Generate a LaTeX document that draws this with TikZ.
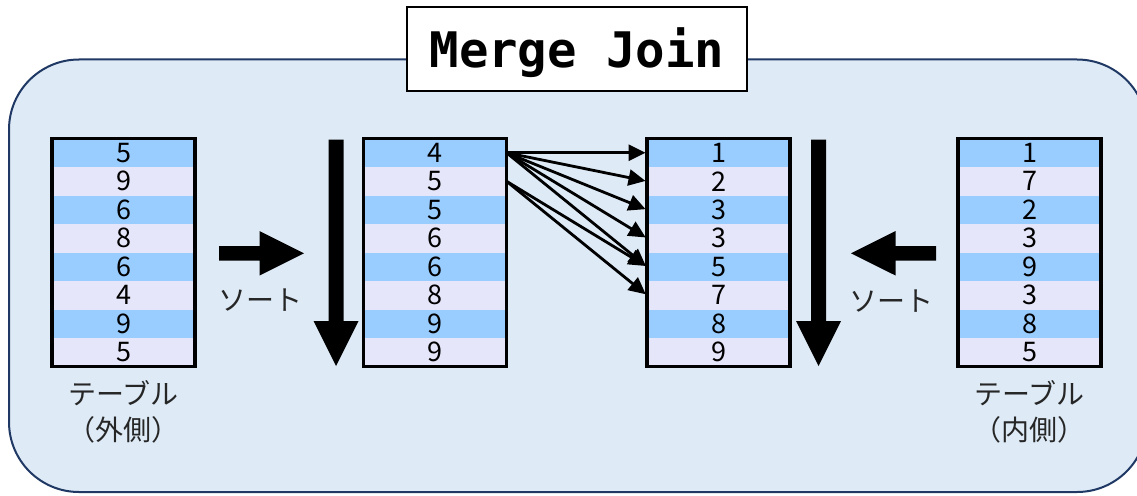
\documentclass[tikz,border=0pt]{standalone}
\usepackage{fontspec}
\setmainfont{Noto Sans CJK JP}
\newfontfamily\titlefont{DejaVu Sans Mono}
\usetikzlibrary{arrows.meta}

\definecolor{panelfill}{RGB}{222,235,247}
\definecolor{paneledge}{RGB}{31,56,100}
\definecolor{rowblue}{RGB}{153,204,255}
\definecolor{rowlav}{RGB}{230,230,250}
\definecolor{inkgray}{RGB}{38,38,38}

% one column of values: prefix, left x, values
\newcommand\mjtable[3]{%
  \foreach \v [count=\i] in {#3} {
    \ifodd\i\relax\def\rowstyle{rowodd}\else\def\rowstyle{roweven}\fi
    \node[cell,\rowstyle] (#1\i) at (#2,138.5+28.5*\i-28.5) {\v};
  }
  \node[tablebox] (#1) at (#2,138.5) {};
}

\begin{document}
\begin{tikzpicture}[x=1pt,y=-1pt,
  cell/.style={anchor=north west, minimum width=143pt, minimum height=28.5pt,
    inner sep=0pt, outer sep=0pt, font=\fontsize{27}{27}\selectfont, text=black},
  rowodd/.style={fill=rowblue},
  roweven/.style={fill=rowlav},
  tablebox/.style={anchor=north west, draw=black, line width=3.5pt,
    minimum width=143pt, minimum height=228pt, inner sep=0pt, outer sep=0pt},
  label/.style={text=inkgray, font=\fontsize{28}{36}\selectfont, align=center, inner sep=0pt},
  fatarrow/.style={fill=black},
  link/.style={line width=2.8pt, shorten >=1.5pt, -{Triangle[length=17pt,width=16pt]}},
]
\useasboundingbox (0,0) rectangle (1137,495);
\clip (0,0) rectangle (1137,495);

% panel
\draw[line width=2pt, draw=paneledge, fill=panelfill, rounded corners=70pt]
  (9,59.5) rectangle (1147,492);

% title
\node[draw=black, line width=1.5pt, fill=white, minimum width=340pt, minimum height=84pt,
  inner sep=0pt, text height=36pt, text depth=0pt,
  font=\titlefont\bfseries\fontsize{49}{49}\selectfont] (title) at (577,49) {Merge Join};

% tables
\mjtable{L}{52}{5,9,6,8,6,4,9,5}
\mjtable{A}{363.5}{4,5,5,6,6,8,9,9}
\mjtable{B}{647}{1,2,3,3,5,7,8,9}
\mjtable{R}{958}{1,7,2,3,9,3,8,5}

% sort arrows
\fill[fatarrow] (219,246) -- (259.5,246) -- (259.5,231) -- (304,253.3)
  -- (259.5,275.5) -- (259.5,260.7) -- (219,260.7) -- cycle;
\fill[fatarrow] (936,246) -- (895.5,246) -- (895.5,231) -- (851,253.3)
  -- (895.5,275.5) -- (895.5,260.7) -- (936,260.7) -- cycle;
\node[label] (sortL) at (260,300) {ソート};
\node[label] (sortR) at (891,301) {ソート};

% order arrows
\fill[fatarrow] (328.5,139.5) -- (343.5,139.5) -- (343.5,321) -- (358.5,321)
  -- (336,366) -- (313.5,321) -- (328.5,321) -- cycle;
\fill[fatarrow] (811,139.5) -- (826,139.5) -- (826,321) -- (841,321)
  -- (818.5,366) -- (796,321) -- (811,321) -- cycle;

% matching rows
\foreach \t in {1,...,5} \draw[link] (A1.east) -- (B\t.west);
\foreach \t in {5,6} \draw[link] (A2.east) -- (B\t.west);

% captions
\node[label, anchor=north] (capL) at (123.5,380) {テーブル\\（外側）};
\node[label, anchor=north] (capR) at (1029.5,380) {テーブル\\（内側）};
\end{tikzpicture}
\end{document}
